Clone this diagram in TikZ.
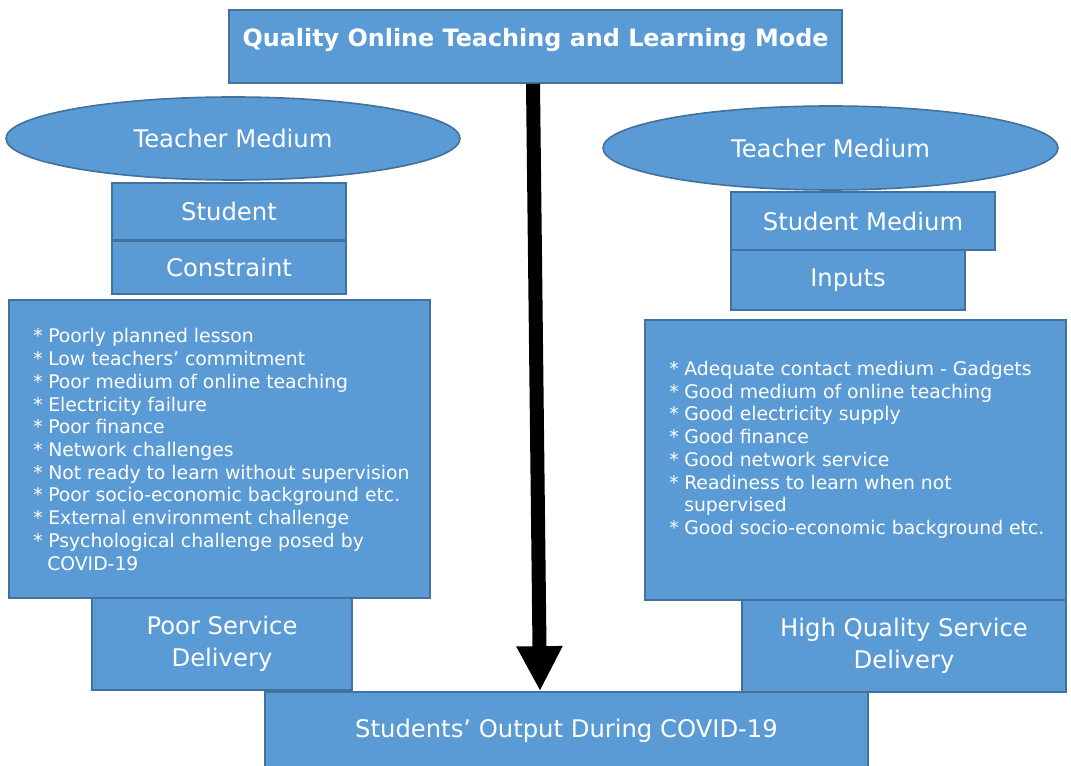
\documentclass[tikz,border=0pt]{standalone}
\usepackage{fontspec}
\setmainfont{DejaVu Sans}
\usetikzlibrary{shapes.geometric,arrows.meta}
\definecolor{boxblue}{HTML}{5B9BD5}
\definecolor{edgeblue}{HTML}{41719C}
\def\pxu{0.75pt}
\tikzset{
    blockbox/.style={draw=edgeblue, fill=boxblue, line width=1.2pt, text=white, inner sep=0pt, align=center, font=\fontsize{18.2}{24}\selectfont},
    medium/.style={blockbox, ellipse},
    listtext/.style={font=\fontsize{14.1}{17}\selectfont, text=white, inner sep=0pt, anchor=base west},
}
\newcommand{\itm}[1]{\makebox[11.25pt][l]{*}#1}
\begin{document}
\begin{tikzpicture}[x=0.75pt, y=-0.75pt]
    \useasboundingbox (0,0) rectangle (1071,766);

    \node[blockbox, minimum width=613*\pxu, minimum height=73*\pxu, font=\fontsize{17.9}{20}\bfseries, text height=8pt, text depth=8pt] (title) at (535.5,46.5) {Quality Online Teaching and Learning Mode};

    % left side
    \node[blockbox, minimum width=234*\pxu, minimum height=57*\pxu] (lstudent) at (229,211.5) {Student};
    \node[medium, minimum width=454*\pxu, minimum height=83*\pxu] (lmedium) at (233,138.5) {Teacher Medium};
    \node[blockbox, minimum width=234*\pxu, minimum height=53*\pxu] (lconstraint) at (229,267.5) {Constraint};
    \node[blockbox, minimum width=421*\pxu, minimum height=298*\pxu] (llist) at (219.5,449) {};
    \foreach \t [count=\i from 0] in {Poorly planned lesson, Low teachers’ commitment, Poor medium of online teaching, Electricity failure, Poor finance, Network challenges, Not ready to learn without supervision, Poor socio-economic background etc., External environment challenge, Psychological challenge posed by}{
        \node[listtext] (con\i) at (33, 343 + 22.7*\i) {\itm{\t}};
    }
    \node[listtext] (con10) at (47, 343 + 22.7*10) {COVID-19};
    \node[blockbox, minimum width=260*\pxu, minimum height=92*\pxu] (lpoor) at (222,644) {Poor Service\\Delivery};

    % right side
    \node[blockbox, minimum width=264*\pxu, minimum height=58*\pxu] (rstudent) at (863,221) {Student Medium};
    \node[medium, minimum width=455*\pxu, minimum height=84*\pxu] (rmedium) at (830.5,148) {Teacher Medium};
    \node[blockbox, minimum width=234*\pxu, minimum height=60*\pxu] (rinputs) at (848,280) {Inputs};
    \node[blockbox, minimum width=421*\pxu, minimum height=280*\pxu] (rlist) at (855.5,460) {};
    \foreach \t [count=\i from 0] in {Adequate contact medium - Gadgets, Good medium of online teaching, Good electricity supply, Good finance, Good network service, Readiness to learn when not}{
        \node[listtext] (inp\i) at (669, 375.5 + 22.7*\i) {\itm{\t}};
    }
    \node[listtext] (inp6) at (684, 375.5 + 22.7*6) {supervised};
    \node[listtext] (inp7) at (669, 375.5 + 22.7*7) {\itm{Good socio-economic background etc.}};
    \node[blockbox, minimum width=324*\pxu, minimum height=92*\pxu] (rhigh) at (904,646) {High Quality Service\\Delivery};

    \node[blockbox, minimum width=603*\pxu, minimum height=78*\pxu] (output) at (566.5,731) {Students’ Output During COVID-19};

    \draw[line width=14*\pxu, -{Triangle[length=45*\pxu, width=43*\pxu]}] ([xshift=-2.5*\pxu]title.south) -- ([xshift=-26.5*\pxu]output.north);
\end{tikzpicture}
\end{document}
